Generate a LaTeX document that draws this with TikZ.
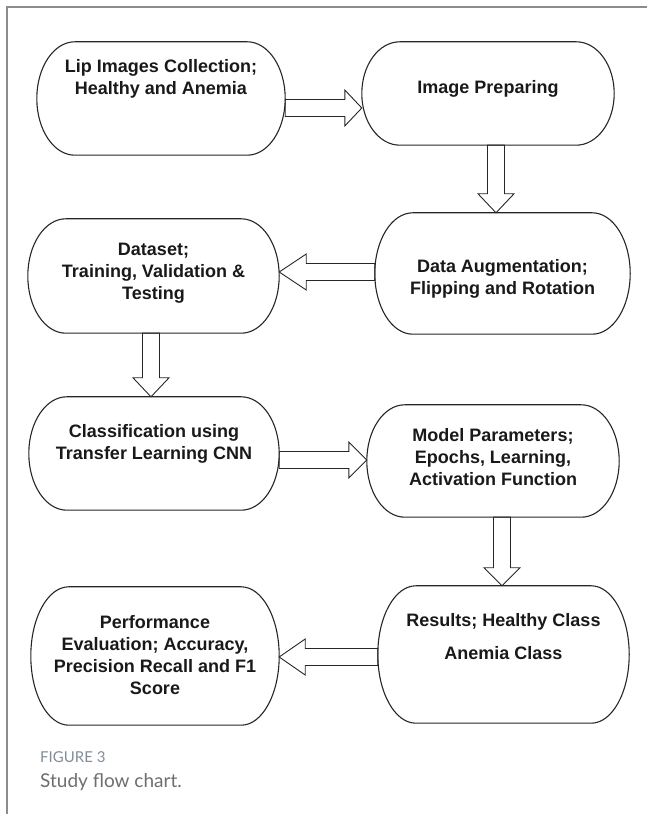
\documentclass[tikz,border=0pt]{standalone}
\usepackage{fontspec}
\setmainfont{Liberation Sans}
\newfontfamily\capfont{Lato}
\usetikzlibrary{calc}

\definecolor{framegray}{RGB}{140,140,140}
\definecolor{capblue}{RGB}{128,140,152}
\definecolor{capgray}{RGB}{110,110,110}

\tikzset{
  stage/.style={minimum width=#1, inner sep=0pt},
  stagetext/.style={font=\bfseries\fontsize{18}{22}\selectfont, align=center, text=black!90},
  stageline/.style={draw=black!85, line width=1.1pt},
  bigarrow/.style={draw=black!85, line width=0.9pt, to path={
      let \p1=(\tikztostart), \p2=(\tikztotarget),
          \n1={veclen(\x2-\x1,\y2-\y1)}, \n2={atan2(\y2-\y1,\x2-\x1)} in
      [shift={(\p1)}, rotate=\n2]
      (0,-8.5) -- (\n1-#1,-8.5) -- (\n1-#1,-18) -- (\n1,0) -- (\n1-#1,18)
      -- (\n1-#1,8.5) -- (0,8.5) -- cycle}},
  bigarrow/.default=18
}

\begin{document}
\begin{tikzpicture}[x=1pt, y=1pt]
  \useasboundingbox (0,0) rectangle (647,814);
  % frame of the figure
  \draw[framegray, line width=1.6pt] (7,0) -- (7,807) -- (647,807);

  % the eight steps
  \node[stage=248, minimum height=113, label={[stagetext, name=lip-t, yshift=20]center:Lip Images Collection;\\Healthy and Anemia}] (lip) at (161,715.5) {};
  \node[stage=252, minimum height=103, label={[stagetext, name=prep-t, yshift=5]center:Image Preparing}] (prep) at (488,720.5) {};
  \node[stage=255, minimum height=121, label={[stagetext, name=aug-t, yshift=-5.5]center:Data Augmentation;\\Flipping and Rotation}] (aug) at (502.5,540.5) {};
  \node[stage=251, minimum height=114, label={[stagetext, name=data-t, yshift=3]center:{Dataset;\\Training, Validation \&\\Testing}}] (data) at (153.5,538) {};
  \node[stage=250, minimum height=113, label={[stagetext, name=cls-t, yshift=10]center:Classification using\\Transfer Learning CNN}] (cls) at (154,360.5) {};
  \node[stage=252, minimum height=112, label={[stagetext, name=model-t, yshift=4]center:{Model Parameters;\\Epochs, Learning,\\Activation Function}}] (model) at (493,353) {};
  \node[stage=251, minimum height=137, label={[stagetext, name=res-t, yshift=18]center:Results; Healthy Class\\[11pt]Anemia Class}] (res) at (503.5,159.5) {};
  \node[stage=248, minimum height=138, label={[stagetext, name=perf-t, yshift=1]center:{Performance\\Evaluation; Accuracy,\\Precision Recall and F1\\Score}}] (perf) at (155,158) {};

  %% outlines with round ends
  \foreach \s in {lip,prep,aug,data,cls,model,res,perf}
    \draw[stageline] let \p1=(\s.north west), \p2=(\s.south east), \n1={(\y1-\y2)/2} in
      (\x1+38,\y1) -- (\x2-38,\y1) arc[start angle=90, end angle=-90, x radius=38pt, y radius={\n1*1pt}]
      -- (\x1+38,\y2) arc[start angle=270, end angle=90, x radius=38pt, y radius={\n1*1pt}] -- cycle;

  %% block arrows
  \draw[bigarrow=17] ([yshift=-9.5]lip.east) to ([yshift=-9.5]lip.east -| prep.west);
  \draw[bigarrow=19] ([xshift=8]prep.south) to ([xshift=8]prep.south |- aug.north);
  \draw[bigarrow=27] ([yshift=1.5]aug.west) to ([yshift=1.5]aug.west -| data.east);
  \draw[bigarrow=19] ([xshift=-2.5]data.south) to ([xshift=-2.5]data.south |- cls.north);
  \draw[bigarrow=18] ([yshift=-6.5]cls.east) to ([yshift=-6.5]cls.east -| model.west);
  \draw[bigarrow=18] ([xshift=9]model.south) to ([xshift=9]model.south |- res.north);
  \draw[bigarrow=26] ([yshift=-2.5]res.west) to ([yshift=-2.5]res.west -| perf.east);

  % caption
  \node[anchor=west, inner sep=0pt, font=\capfont\fontsize{15}{18}\selectfont, text=capblue] (fignum) at (40,57) {FIGURE 3};
  \node[anchor=west, inner sep=0pt, font=\capfont\fontsize{19}{23}\selectfont, text=capgray] (figcap) at (40,32) {Study flow chart.};
\end{tikzpicture}
\end{document}
